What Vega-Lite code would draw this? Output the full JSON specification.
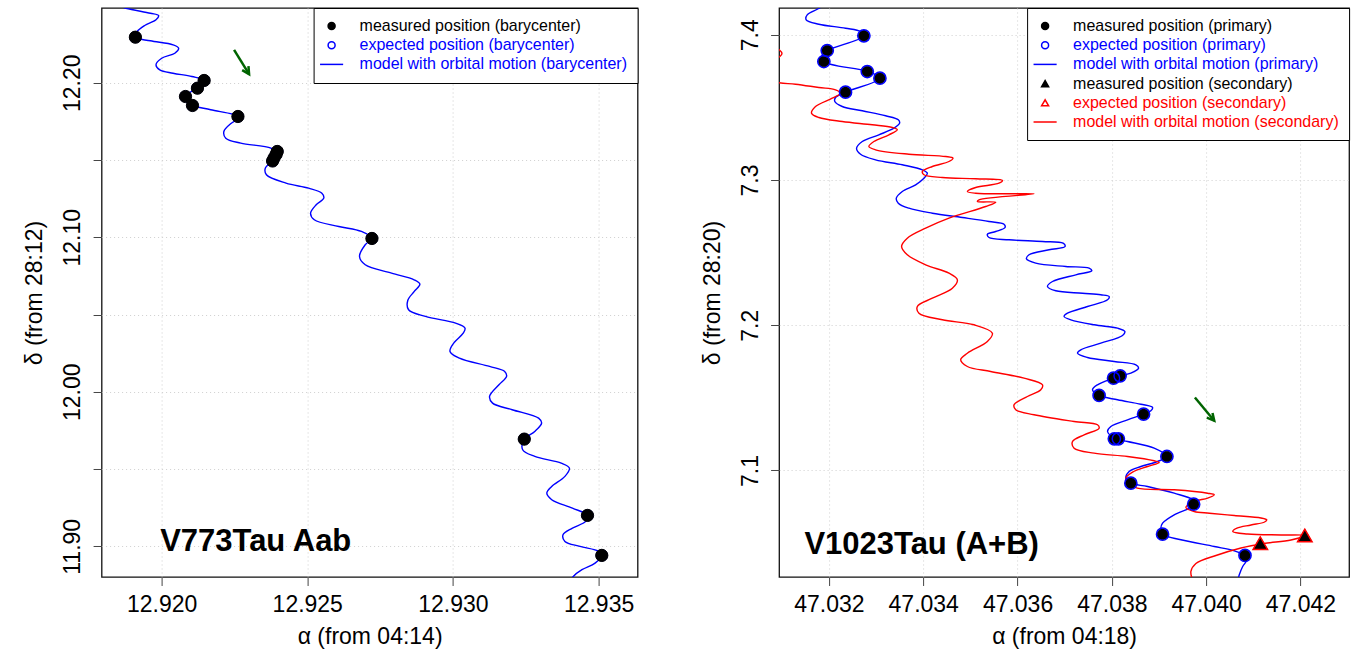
{
  "$schema": "https://vega.github.io/schema/vega-lite/v6.json",
  "background": "white",
  "padding": {"left": 22.6, "top": 6, "right": 5, "bottom": 5},
  "bounds": "flush",
  "spacing": 141.5,
  "config": {
    "font": "Liberation Sans",
    "view": {"stroke": "#111111", "strokeWidth": 1.3},
    "axis": {
      "domain": false, "grid": true, "gridColor": "#cfcfcf", "gridDash": [1, 3], "gridWidth": 1,
      "tickColor": "#444444", "tickSize": 8.5, "tickWidth": 1,
      "labelFont": "Liberation Sans", "labelFontSize": 23, "labelColor": "#000000",
      "titleFont": "Liberation Sans", "titleFontSize": 23, "titleFontWeight": "normal", "titleColor": "#000000",
      "labelFlush": false, "labelOverlap": false, "labelBound": false
    },
    "legend": {
      "orient": "top-right", "offset": 0, "padding": 10, "strokeColor": "#000000", "fillColor": "#ffffff",
      "cornerRadius": 0, "labelFont": "Liberation Sans", "labelFontSize": 16, "labelLimit": 600,
      "labelOffset": 20, "rowPadding": 3.2, "symbolSize": 49, "symbolStrokeWidth": 1.5, "symbolOpacity": 1
    }
  },
  "resolve": {"scale": {"fill": "independent", "stroke": "independent", "shape": "independent", "x": "independent", "y": "independent"}},
  "datasets": {
    "leftModel": [
      {"i":1,"a":12.918296,"d":12.25132},{"i":2,"a":12.918773,"d":12.24828},{"i":3,"a":12.919615,"d":12.24504},
      {"i":4,"a":12.919897,"d":12.24355},{"i":5,"a":12.919808,"d":12.24077},{"i":6,"a":12.919419,"d":12.23708},
      {"i":7,"a":12.919162,"d":12.23320},{"i":8,"a":12.919096,"d":12.22951},{"i":9,"a":12.919615,"d":12.22718},
      {"i":10,"a":12.920392,"d":12.22459},{"i":11,"a":12.920584,"d":12.22239},{"i":12,"a":12.920454,"d":12.21915},
      {"i":13,"a":12.920003,"d":12.21592},{"i":14,"a":12.919808,"d":12.21165},{"i":15,"a":12.919938,"d":12.20841},
      {"i":16,"a":12.920392,"d":12.20621},{"i":17,"a":12.921038,"d":12.20408},{"i":18,"a":12.921464,"d":12.20149},
      {"i":19,"a":12.921230,"d":12.19651},{"i":20,"a":12.920907,"d":12.19308},{"i":21,"a":12.920818,"d":12.19113},
      {"i":22,"a":12.920856,"d":12.18790},{"i":23,"a":12.921062,"d":12.18531},{"i":24,"a":12.921684,"d":12.18253},
      {"i":25,"a":12.922615,"d":12.17819},{"i":26,"a":12.922557,"d":12.17593},{"i":27,"a":12.922395,"d":12.17386},
      {"i":28,"a":12.922137,"d":12.16848},{"i":29,"a":12.922203,"d":12.16415},{"i":30,"a":12.922718,"d":12.16091},
      {"i":31,"a":12.923753,"d":12.15768},{"i":32,"a":12.923948,"d":12.15444},{"i":33,"a":12.923897,"d":12.15166},
      {"i":34,"a":12.923818,"d":12.14952},{"i":35,"a":12.923560,"d":12.14474},{"i":36,"a":12.923598,"d":12.14046},
      {"i":37,"a":12.924271,"d":12.13503},{"i":38,"a":12.925048,"d":12.13179},{"i":39,"a":12.925502,"d":12.12856},
      {"i":40,"a":12.925567,"d":12.12532},{"i":41,"a":12.925306,"d":12.12105},{"i":42,"a":12.925113,"d":12.11561},
      {"i":43,"a":12.925241,"d":12.11134},{"i":44,"a":12.926082,"d":12.10701},{"i":45,"a":12.926859,"d":12.10377},
      {"i":46,"a":12.927220,"d":12.09924},{"i":47,"a":12.926990,"d":12.09517},{"i":48,"a":12.926794,"d":12.08759},
      {"i":49,"a":12.926990,"d":12.08222},{"i":50,"a":12.927893,"d":12.07679},{"i":51,"a":12.928670,"d":12.07252},
      {"i":52,"a":12.928866,"d":12.06967},{"i":53,"a":12.928674,"d":12.06495},{"i":54,"a":12.928450,"d":12.05912},
      {"i":55,"a":12.928478,"d":12.05310},{"i":56,"a":12.929058,"d":12.04877},{"i":57,"a":12.930093,"d":12.04443},
      {"i":58,"a":12.930416,"d":12.04119},{"i":59,"a":12.930354,"d":12.03796},{"i":60,"a":12.930027,"d":12.03149},
      {"i":61,"a":12.929900,"d":12.02612},{"i":62,"a":12.930223,"d":12.02178},{"i":63,"a":12.931258,"d":12.01641},
      {"i":64,"a":12.931777,"d":12.01318},{"i":65,"a":12.931842,"d":12.00994},{"i":66,"a":12.931581,"d":12.00457},
      {"i":67,"a":12.931258,"d":11.99700},{"i":68,"a":12.931361,"d":11.99266},{"i":69,"a":12.932034,"d":11.98839},
      {"i":70,"a":12.932942,"d":11.98295},{"i":71,"a":12.933045,"d":11.97972},{"i":72,"a":12.932811,"d":11.97435},
      {"i":73,"a":12.932450,"d":11.96937},{"i":74,"a":12.932395,"d":11.96251},{"i":75,"a":12.932811,"d":11.95817},
      {"i":76,"a":12.933718,"d":11.95383},{"i":77,"a":12.934000,"d":11.95060},{"i":78,"a":12.933845,"d":11.94523},
      {"i":79,"a":12.933392,"d":11.93876},{"i":80,"a":12.933223,"d":11.93442},{"i":81,"a":12.933392,"d":11.93015},
      {"i":82,"a":12.934103,"d":11.92471},{"i":83,"a":12.934622,"d":11.91999},{"i":84,"a":12.934557,"d":11.91611},
      {"i":85,"a":12.934103,"d":11.91177},{"i":86,"a":12.933780,"d":11.90750},{"i":87,"a":12.933845,"d":11.90316},
      {"i":88,"a":12.934364,"d":11.89993},{"i":89,"a":12.935010,"d":11.89669},{"i":90,"a":12.935113,"d":11.89410},
      {"i":91,"a":12.934880,"d":11.88912},{"i":92,"a":12.934430,"d":11.88485},{"i":93,"a":12.934131,"d":11.88051},
      {"i":94,"a":12.933897,"d":11.87404}
    ],
    "leftPts": [
      {"a":12.91910,"d":12.22951,"s":"e"},{"a":12.92146,"d":12.20149,"s":"e"},{"a":12.92123,"d":12.19651,"s":"e"},
      {"a":12.92082,"d":12.19113,"s":"e"},{"a":12.92106,"d":12.18531,"s":"e"},{"a":12.92262,"d":12.17819,"s":"e"},
      {"a":12.92397,"d":12.15554,"s":"e"},{"a":12.92393,"d":12.15360,"s":"e"},{"a":12.92386,"d":12.15134,"s":"e"},
      {"a":12.92381,"d":12.14939,"s":"e"},{"a":12.92722,"d":12.09924,"s":"e"},{"a":12.93245,"d":11.96937,"s":"e"},
      {"a":12.93462,"d":11.91999,"s":"e"},{"a":12.93511,"d":11.89410,"s":"e"},
      {"a":12.91910,"d":12.22951,"s":"m"},{"a":12.92146,"d":12.20149,"s":"m"},{"a":12.92123,"d":12.19651,"s":"m"},
      {"a":12.92082,"d":12.19113,"s":"m"},{"a":12.92106,"d":12.18531,"s":"m"},{"a":12.92262,"d":12.17819,"s":"m"},
      {"a":12.92397,"d":12.15554,"s":"m"},{"a":12.92393,"d":12.15360,"s":"m"},{"a":12.92386,"d":12.15134,"s":"m"},
      {"a":12.92381,"d":12.14939,"s":"m"},{"a":12.92722,"d":12.09924,"s":"m"},{"a":12.93245,"d":11.96937,"s":"m"},
      {"a":12.93462,"d":11.91999,"s":"m"},{"a":12.93511,"d":11.89410,"s":"m"}
    ],
    "leftArrow": [{"a":12.922488,"d":12.22136,"a2":12.923003,"d2":12.20557}],
    "leftHead": [{"a":12.923003,"d":12.20557}],
    "leftLabel": [{"a":12.91995,"d":11.89669,"t":"V773Tau Aab"}],
    "rightBlue": [
      {"i":1,"a":47.032034,"d":7.42431},{"i":2,"a":47.031822,"d":7.41880},{"i":3,"a":47.031539,"d":7.41377},
      {"i":4,"a":47.031518,"d":7.41033},{"i":5,"a":47.031786,"d":7.40730},{"i":6,"a":47.032352,"d":7.40454},
      {"i":7,"a":47.032671,"d":7.40227},{"i":8,"a":47.032741,"d":7.39931},{"i":9,"a":47.031964,"d":7.38919},
      {"i":10,"a":47.031858,"d":7.38623},{"i":11,"a":47.031892,"d":7.38162},{"i":12,"a":47.032813,"d":7.37473},
      {"i":13,"a":47.033081,"d":7.37012},{"i":14,"a":47.032352,"d":7.36048},{"i":15,"a":47.032140,"d":7.35683},
      {"i":16,"a":47.032125,"d":7.35407},{"i":17,"a":47.032282,"d":7.35063},{"i":18,"a":47.032707,"d":7.34767},
      {"i":19,"a":47.033202,"d":7.34423},{"i":20,"a":47.033471,"d":7.34147},{"i":21,"a":47.033499,"d":7.33913},
      {"i":22,"a":47.033378,"d":7.33569},{"i":23,"a":47.033059,"d":7.33114},{"i":24,"a":47.032707,"d":7.32653},
      {"i":25,"a":47.032586,"d":7.32192},{"i":26,"a":47.032671,"d":7.31779},{"i":27,"a":47.032989,"d":7.31393},
      {"i":28,"a":47.033556,"d":7.31049},{"i":29,"a":47.033981,"d":7.30704},{"i":30,"a":47.034087,"d":7.30470},
      {"i":31,"a":47.034015,"d":7.30126},{"i":32,"a":47.033839,"d":7.29672},{"i":33,"a":47.033556,"d":7.29210},
      {"i":34,"a":47.033429,"d":7.28749},{"i":35,"a":47.033471,"d":7.28405},{"i":36,"a":47.033696,"d":7.28060},
      {"i":37,"a":47.034193,"d":7.27716},{"i":38,"a":47.034830,"d":7.27420},{"i":39,"a":47.035395,"d":7.27145},
      {"i":40,"a":47.035713,"d":7.26959},{"i":41,"a":47.035735,"d":7.26731},{"i":42,"a":47.035537,"d":7.26456},
      {"i":43,"a":47.035361,"d":7.26270},{"i":44,"a":47.035395,"d":7.26043},{"i":45,"a":47.035820,"d":7.25884},
      {"i":46,"a":47.036529,"d":7.25767},{"i":47,"a":47.036966,"d":7.25650},{"i":48,"a":47.037008,"d":7.25423},
      {"i":49,"a":47.036669,"d":7.25196},{"i":50,"a":47.036244,"d":7.24852},{"i":51,"a":47.036189,"d":7.24576},
      {"i":52,"a":47.036386,"d":7.24273},{"i":53,"a":47.037023,"d":7.24046},{"i":54,"a":47.037518,"d":7.23929},
      {"i":55,"a":47.037575,"d":7.23750},{"i":56,"a":47.037236,"d":7.23474},{"i":57,"a":47.036741,"d":7.23013},
      {"i":58,"a":47.036635,"d":7.22669},{"i":59,"a":47.036811,"d":7.22373},{"i":60,"a":47.037378,"d":7.22207},
      {"i":61,"a":47.037766,"d":7.22097},{"i":62,"a":47.037943,"d":7.21980},{"i":63,"a":47.037909,"d":7.21753},
      {"i":64,"a":47.037484,"d":7.21292},{"i":65,"a":47.037059,"d":7.20830},{"i":66,"a":47.036987,"d":7.20603},
      {"i":67,"a":47.037130,"d":7.20376},{"i":68,"a":47.037624,"d":7.20032},{"i":69,"a":47.038121,"d":7.19798},
      {"i":70,"a":47.038276,"d":7.19570},{"i":71,"a":47.038227,"d":7.19295},{"i":72,"a":47.037766,"d":7.18765},
      {"i":73,"a":47.037342,"d":7.18310},{"i":74,"a":47.037272,"d":7.18076},{"i":75,"a":47.037484,"d":7.17780},
      {"i":76,"a":47.038049,"d":7.17505},{"i":77,"a":47.038510,"d":7.17277},{"i":78,"a":47.038567,"d":7.17043},
      {"i":79,"a":47.038403,"d":7.16699},{"i":80,"a":47.038176,"d":7.16520},{"i":81,"a":47.038036,"d":7.16355},
      {"i":82,"a":47.037696,"d":7.15900},{"i":83,"a":47.037590,"d":7.15556},{"i":84,"a":47.037730,"d":7.15164},
      {"i":85,"a":47.038121,"d":7.14867},{"i":86,"a":47.038616,"d":7.14564},{"i":87,"a":47.038864,"d":7.14337},
      {"i":88,"a":47.038828,"d":7.14110},{"i":89,"a":47.038673,"d":7.13876},{"i":90,"a":47.038333,"d":7.13490},
      {"i":91,"a":47.037979,"d":7.13029},{"i":92,"a":47.037909,"d":7.12685},{"i":93,"a":47.038085,"d":7.12182},
      {"i":94,"a":47.038333,"d":7.11996},{"i":95,"a":47.038898,"d":7.11535},{"i":96,"a":47.039168,"d":7.10963},
      {"i":97,"a":47.038970,"d":7.10619},{"i":98,"a":47.038616,"d":7.10275},{"i":99,"a":47.038367,"d":7.09930},
      {"i":100,"a":47.038297,"d":7.09469},{"i":101,"a":47.038403,"d":7.09125},{"i":102,"a":47.038758,"d":7.08898},
      {"i":103,"a":47.039323,"d":7.08436},{"i":104,"a":47.039713,"d":7.07982},{"i":105,"a":47.039735,"d":7.07679},
      {"i":106,"a":47.039641,"d":7.07403},{"i":107,"a":47.039323,"d":7.06949},{"i":108,"a":47.039076,"d":7.06370},
      {"i":109,"a":47.039040,"d":7.06026},{"i":110,"a":47.039076,"d":7.05613},{"i":111,"a":47.039465,"d":7.05228},
      {"i":112,"a":47.040172,"d":7.04766},{"i":113,"a":47.040597,"d":7.04470},{"i":114,"a":47.040824,"d":7.04147},
      {"i":115,"a":47.040866,"d":7.03850},{"i":116,"a":47.040775,"d":7.03389},{"i":117,"a":47.040703,"d":7.02818},
      {"i":118,"a":47.040654,"d":7.02219}
    ],
    "rightRed": [
      {"i":1,"a":47.030442,"d":7.39883},{"i":2,"a":47.030760,"d":7.39263},{"i":3,"a":47.030951,"d":7.38953},
      {"i":4,"a":47.031004,"d":7.38712},{"i":5,"a":47.030930,"d":7.38437},{"i":6,"a":47.030654,"d":7.38024},
      {"i":7,"a":47.030442,"d":7.37335},{"i":8,"a":47.030866,"d":7.36750},{"i":9,"a":47.031291,"d":7.36599},
      {"i":10,"a":47.031786,"d":7.36371},{"i":11,"a":47.032140,"d":7.36213},{"i":12,"a":47.032246,"d":7.35979},
      {"i":13,"a":47.032070,"d":7.35634},{"i":14,"a":47.031715,"d":7.35063},{"i":15,"a":47.031631,"d":7.34602},
      {"i":16,"a":47.031786,"d":7.34306},{"i":17,"a":47.032282,"d":7.34030},{"i":18,"a":47.032919,"d":7.33803},
      {"i":19,"a":47.033344,"d":7.33617},{"i":20,"a":47.033450,"d":7.33459},{"i":21,"a":47.033272,"d":7.33114},
      {"i":22,"a":47.032953,"d":7.32653},{"i":23,"a":47.032847,"d":7.32309},{"i":24,"a":47.032989,"d":7.32082},
      {"i":25,"a":47.033696,"d":7.31779},{"i":26,"a":47.034476,"d":7.31620},{"i":27,"a":47.034631,"d":7.31503},
      {"i":28,"a":47.034546,"d":7.31276},{"i":29,"a":47.034193,"d":7.30932},{"i":30,"a":47.033981,"d":7.30587},
      {"i":31,"a":47.034015,"d":7.30360},{"i":32,"a":47.034406,"d":7.30174},{"i":33,"a":47.035113,"d":7.30085},
      {"i":34,"a":47.035679,"d":7.29968},{"i":35,"a":47.035607,"d":7.29782},{"i":36,"a":47.035113,"d":7.29486},
      {"i":37,"a":47.034936,"d":7.29210},{"i":38,"a":47.035113,"d":7.29093},{"i":39,"a":47.035820,"d":7.29052},
      {"i":40,"a":47.036350,"d":7.29052},{"i":41,"a":47.035183,"d":7.28639},{"i":42,"a":47.035149,"d":7.28522},
      {"i":43,"a":47.035537,"d":7.28473},{"i":44,"a":47.035325,"d":7.28177},{"i":45,"a":47.034546,"d":7.27372},
      {"i":46,"a":47.034051,"d":7.26683},{"i":47,"a":47.033662,"d":7.25995},{"i":48,"a":47.033541,"d":7.25423},
      {"i":49,"a":47.033662,"d":7.24852},{"i":50,"a":47.034051,"d":7.24163},{"i":51,"a":47.034546,"d":7.23585},
      {"i":52,"a":47.034724,"d":7.23130},{"i":53,"a":47.034618,"d":7.22552},{"i":54,"a":47.034193,"d":7.21863},
      {"i":55,"a":47.033875,"d":7.21292},{"i":56,"a":47.033909,"d":7.20830},{"i":57,"a":47.034406,"d":7.20376},
      {"i":58,"a":47.035076,"d":7.20032},{"i":59,"a":47.035467,"d":7.19453},{"i":60,"a":47.035361,"d":7.18882},
      {"i":61,"a":47.034936,"d":7.18076},{"i":62,"a":47.034794,"d":7.17622},{"i":63,"a":47.034936,"d":7.17160},
      {"i":64,"a":47.035431,"d":7.16816},{"i":65,"a":47.036138,"d":7.16355},{"i":66,"a":47.036529,"d":7.15900},
      {"i":67,"a":47.036493,"d":7.15556},{"i":68,"a":47.036210,"d":7.15095},{"i":69,"a":47.035926,"d":7.14523},
      {"i":70,"a":47.035962,"d":7.14179},{"i":71,"a":47.036350,"d":7.13835},{"i":72,"a":47.037200,"d":7.13373},
      {"i":73,"a":47.037696,"d":7.13146},{"i":74,"a":47.037730,"d":7.12912},{"i":75,"a":47.037412,"d":7.12458},
      {"i":76,"a":47.037166,"d":7.11996},{"i":77,"a":47.037200,"d":7.11535},{"i":78,"a":47.037624,"d":7.11191},
      {"i":79,"a":47.038333,"d":7.10963},{"i":80,"a":47.038898,"d":7.10667},{"i":81,"a":47.039004,"d":7.10550},
      {"i":82,"a":47.038758,"d":7.10275},{"i":83,"a":47.038439,"d":7.09882},{"i":84,"a":47.038297,"d":7.09469},
      {"i":85,"a":47.038361,"d":7.09104},{"i":86,"a":47.038539,"d":7.08781},{"i":87,"a":47.039323,"d":7.08671},
      {"i":88,"a":47.040032,"d":7.08436},{"i":89,"a":47.040172,"d":7.08326},{"i":90,"a":47.040032,"d":7.08092},
      {"i":91,"a":47.039747,"d":7.07865},{"i":92,"a":47.039571,"d":7.07452},{"i":93,"a":47.039747,"d":7.07176},
      {"i":94,"a":47.040070,"d":7.07059},{"i":95,"a":47.040597,"d":7.06901},{"i":96,"a":47.041163,"d":7.06729},
      {"i":97,"a":47.041285,"d":7.06605},{"i":98,"a":47.041240,"d":7.06453},{"i":99,"a":47.040951,"d":7.06247},
      {"i":100,"a":47.040654,"d":7.06026},{"i":101,"a":47.040565,"d":7.05799},{"i":102,"a":47.040879,"d":7.05627},
      {"i":103,"a":47.041588,"d":7.05558},{"i":104,"a":47.042093,"d":7.05524},{"i":105,"a":47.041800,"d":7.05214},
      {"i":106,"a":47.041227,"d":7.04973},{"i":107,"a":47.040739,"d":7.04663},{"i":108,"a":47.040208,"d":7.04147},
      {"i":109,"a":47.039783,"d":7.03596},{"i":110,"a":47.039677,"d":7.03045},{"i":111,"a":47.039709,"d":7.02494}
    ],
    "rightPts": [
      {"a":47.032741,"d":7.39931,"s":"m1"},{"a":47.031964,"d":7.38919,"s":"m1"},{"a":47.031892,"d":7.38162,"s":"m1"},
      {"a":47.032813,"d":7.37473,"s":"m1"},{"a":47.033081,"d":7.37012,"s":"m1"},{"a":47.032352,"d":7.36048,"s":"m1"},
      {"a":47.038036,"d":7.16355,"s":"m1"},{"a":47.038176,"d":7.16520,"s":"m1"},{"a":47.037730,"d":7.15164,"s":"m1"},
      {"a":47.038673,"d":7.13876,"s":"m1"},{"a":47.038053,"d":7.12182,"s":"m1"},{"a":47.038138,"d":7.12182,"s":"m1"},
      {"a":47.039168,"d":7.10963,"s":"m1"},{"a":47.038403,"d":7.09125,"s":"m1"},{"a":47.039735,"d":7.07679,"s":"m1"},
      {"a":47.039076,"d":7.05613,"s":"m1"},{"a":47.040824,"d":7.04147,"s":"m1"},
      {"a":47.041149,"d":7.04993,"s":"m2"},{"a":47.042093,"d":7.05524,"s":"m2"},
      {"a":47.032741,"d":7.39931,"s":"e1"},{"a":47.031964,"d":7.38919,"s":"e1"},{"a":47.031892,"d":7.38162,"s":"e1"},
      {"a":47.032813,"d":7.37473,"s":"e1"},{"a":47.033081,"d":7.37012,"s":"e1"},{"a":47.032352,"d":7.36048,"s":"e1"},
      {"a":47.038036,"d":7.16355,"s":"e1"},{"a":47.038176,"d":7.16520,"s":"e1"},{"a":47.037730,"d":7.15164,"s":"e1"},
      {"a":47.038673,"d":7.13876,"s":"e1"},{"a":47.038053,"d":7.12182,"s":"e1"},{"a":47.038138,"d":7.12182,"s":"e1"},
      {"a":47.039168,"d":7.10963,"s":"e1"},{"a":47.038403,"d":7.09125,"s":"e1"},{"a":47.039735,"d":7.07679,"s":"e1"},
      {"a":47.039076,"d":7.05613,"s":"e1"},{"a":47.040824,"d":7.04147,"s":"e1"},
      {"a":47.041149,"d":7.04993,"s":"e2"},{"a":47.042093,"d":7.05524,"s":"e2"}
    ],
    "rightArrow": [{"a":47.039762,"d":7.15026,"a2":47.040172,"d2":7.13422}],
    "rightHead": [{"a":47.040172,"d":7.13422}],
    "rightLabel": [{"a":47.03148,"d":7.04215,"t":"V1023Tau (A+B)"}]
  },
  "hconcat": [
    {
      "width": 536,
      "height": 569,
      "layer": [
        {
          "data": {"name": "leftModel"},
          "mark": {"type": "line", "strokeWidth": 1.4, "interpolate": "catmull-rom", "clip": true, "color": "#0000ff"},
          "encoding": {
            "x": {"field": "a", "type": "quantitative", "scale": {"domain": [12.91794, 12.93634], "zero": false, "nice": false},
              "axis": {"title": "α (from 04:14)", "values": [12.920, 12.925, 12.930, 12.935], "format": ".3f",
                "labelBaseline": "alphabetic", "labelPadding": 26, "titleBaseline": "alphabetic", "titleX": 268, "titleY": 66.5}},
            "y": {"field": "d", "type": "quantitative", "scale": {"domain": [11.88013, 12.24841], "zero": false, "nice": false},
              "axis": {"title": "δ (from 28:12)", "values": [11.90, 11.95, 12.00, 12.05, 12.10, 12.15, 12.20],
                "labelExpr": "round(datum.value*100) % 10 == 0 ? format(datum.value, '.2f') : ''",
                "labelAngle": 270, "labelAlign": "center", "labelBaseline": "alphabetic", "labelPadding": 13.5,
                "titleAngle": 270, "titleAlign": "center", "titleBaseline": "alphabetic", "titleX": -60, "titleY": 284.5}},
            "order": {"field": "i", "type": "quantitative"}
          }
        },
        {
          "data": {"name": "leftPts"},
          "transform": [{"filter": "datum.s == 'e'"}],
          "mark": {"type": "point", "opacity": 1, "strokeWidth": 1.5},
          "encoding": {
            "x": {"field": "a", "type": "quantitative", "scale": {"domain": [12.91794, 12.93634], "zero": false, "nice": false}},
            "y": {"field": "d", "type": "quantitative", "scale": {"domain": [11.88013, 12.24841], "zero": false, "nice": false}},
            "fill": {"field": "s", "type": "nominal", "title": null, "scale": {"domain": ["m", "e", "l"], "range": ["#000000", "transparent", "transparent"]},
              "legend": {"title": null, "labelColor": {"expr": "datum.value == 'm' ? '#000000' : '#0000ff'"},
                "labelExpr": "datum.value == 'm' ? 'measured position (barycenter)' : datum.value == 'e' ? 'expected position (barycenter)' : 'model with orbital motion (barycenter)'"}},
            "stroke": {"field": "s", "type": "nominal", "title": null, "scale": {"domain": ["m", "e", "l"], "range": ["#000000", "#0000ff", "#0000ff"]}},
            "shape": {"field": "s", "type": "nominal", "title": null, "scale": {"domain": ["m", "e", "l"], "range": ["circle", "circle", "M-3.3,0H3.3"]}},
            "size": {"condition": {"test": "datum.s == 'm'", "value": 150}, "value": 115}
          }
        },
        {
          "data": {"name": "leftPts"},
          "transform": [{"filter": "datum.s == 'm'"}],
          "mark": {"type": "point", "opacity": 1, "strokeWidth": 1},
          "encoding": {
            "x": {"field": "a", "type": "quantitative", "scale": {"domain": [12.91794, 12.93634], "zero": false, "nice": false}},
            "y": {"field": "d", "type": "quantitative", "scale": {"domain": [11.88013, 12.24841], "zero": false, "nice": false}},
            "fill": {"field": "s", "type": "nominal", "title": null, "scale": {"domain": ["m", "e", "l"], "range": ["#000000", "transparent", "transparent"]}},
            "stroke": {"field": "s", "type": "nominal", "title": null, "scale": {"domain": ["m", "e", "l"], "range": ["#000000", "#0000ff", "#0000ff"]}},
            "shape": {"field": "s", "type": "nominal", "title": null, "scale": {"domain": ["m", "e", "l"], "range": ["circle", "circle", "M-3.3,0H3.3"]}},
            "size": {"condition": {"test": "datum.s == 'm'", "value": 150}, "value": 115}
          }
        },
        {
          "data": {"name": "leftArrow"},
          "mark": {"type": "rule", "color": "#006400", "strokeWidth": 2.5},
          "encoding": {
            "x": {"field": "a", "type": "quantitative", "scale": {"domain": [12.91794, 12.93634], "zero": false, "nice": false}},
            "y": {"field": "d", "type": "quantitative", "scale": {"domain": [11.88013, 12.24841], "zero": false, "nice": false}},
            "x2": {"field": "a2"},
            "y2": {"field": "d2"}
          }
        },
        {
          "data": {"name": "leftHead"},
          "mark": {"type": "point", "shape": "M-0.65,1.25L0,0L0.65,1.25", "filled": false, "opacity": 1, "color": "#006400", "strokeWidth": 2.5, "strokeJoin": "miter", "size": 130, "angle": 148},
          "encoding": {
            "x": {"field": "a", "type": "quantitative", "scale": {"domain": [12.91794, 12.93634], "zero": false, "nice": false}},
            "y": {"field": "d", "type": "quantitative", "scale": {"domain": [11.88013, 12.24841], "zero": false, "nice": false}}
          }
        },
        {
          "data": {"name": "leftLabel"},
          "mark": {"type": "text", "align": "left", "baseline": "alphabetic", "fontSize": 31, "fontWeight": "bold", "font": "Liberation Sans", "color": "#000000"},
          "encoding": {
            "x": {"field": "a", "type": "quantitative", "scale": {"domain": [12.91794, 12.93634], "zero": false, "nice": false}},
            "y": {"field": "d", "type": "quantitative", "scale": {"domain": [11.88013, 12.24841], "zero": false, "nice": false}},
            "text": {"field": "t"}
          }
        }
      ]
    },
    {
      "width": 570,
      "height": 569,
      "layer": [
        {
          "data": {"name": "rightBlue"},
          "mark": {"type": "line", "strokeWidth": 1.4, "interpolate": "catmull-rom", "clip": true, "color": "#0000ff"},
          "encoding": {
            "x": {"field": "a", "type": "quantitative", "scale": {"domain": [47.030943, 47.043032], "zero": false, "nice": false},
              "axis": {"title": "α (from 04:18)", "values": [47.032, 47.034, 47.036, 47.038, 47.040, 47.042], "format": ".3f",
                "labelBaseline": "alphabetic", "labelPadding": 26, "titleBaseline": "alphabetic", "titleX": 285, "titleY": 66.5}},
            "y": {"field": "d", "type": "quantitative", "scale": {"domain": [7.02665, 7.41846], "zero": false, "nice": false},
              "axis": {"title": "δ (from 28:20)", "values": [7.1, 7.2, 7.3, 7.4], "format": ".1f",
                "labelAngle": 270, "labelAlign": "center", "labelBaseline": "alphabetic", "labelPadding": 13.5,
                "titleAngle": 270, "titleAlign": "center", "titleBaseline": "alphabetic", "titleX": -60, "titleY": 284.5}},
            "order": {"field": "i", "type": "quantitative"}
          }
        },
        {
          "data": {"name": "rightRed"},
          "mark": {"type": "line", "strokeWidth": 1.4, "interpolate": "catmull-rom", "clip": true, "color": "#ff0000"},
          "encoding": {
            "x": {"field": "a", "type": "quantitative", "scale": {"domain": [47.030943, 47.043032], "zero": false, "nice": false}},
            "y": {"field": "d", "type": "quantitative", "scale": {"domain": [7.02665, 7.41846], "zero": false, "nice": false}},
            "order": {"field": "i", "type": "quantitative"}
          }
        },
        {
          "data": {"name": "rightPts"},
          "transform": [{"filter": "datum.s == 'm1' || datum.s == 'm2'"}],
          "mark": {"type": "point", "opacity": 1, "strokeWidth": 1},
          "encoding": {
            "x": {"field": "a", "type": "quantitative", "scale": {"domain": [47.030943, 47.043032], "zero": false, "nice": false}},
            "y": {"field": "d", "type": "quantitative", "scale": {"domain": [7.02665, 7.41846], "zero": false, "nice": false}},
            "fill": {"field": "s", "type": "nominal", "title": null, "scale": {"domain": ["m1", "e1", "l1", "m2", "e2", "l2"], "range": ["#000000", "transparent", "transparent", "#000000", "transparent", "transparent"]},
              "legend": {"title": null,
                "labelColor": {"expr": "datum.value == 'm1' || datum.value == 'm2' ? '#000000' : (datum.value == 'e2' || datum.value == 'l2' ? '#ff0000' : '#0000ff')"},
                "labelExpr": "datum.value == 'm1' ? 'measured position (primary)' : datum.value == 'e1' ? 'expected position (primary)' : datum.value == 'l1' ? 'model with orbital motion (primary)' : datum.value == 'm2' ? 'measured position (secondary)' : datum.value == 'e2' ? 'expected position (secondary)' : 'model with orbital motion (secondary)'"}},
            "stroke": {"field": "s", "type": "nominal", "title": null, "scale": {"domain": ["m1", "e1", "l1", "m2", "e2", "l2"], "range": ["#000000", "#0000ff", "#0000ff", "#000000", "#ff0000", "#ff0000"]}},
            "shape": {"field": "s", "type": "nominal", "title": null, "scale": {"domain": ["m1", "e1", "l1", "m2", "e2", "l2"], "range": ["circle", "circle", "M-3.3,0H3.3", "triangle-up", "triangle-up", "M-3.3,0H3.3"]}},
            "size": {"condition": {"test": "datum.s == 'm2'", "value": 190}, "value": 115}
          }
        },
        {
          "data": {"name": "rightPts"},
          "transform": [{"filter": "datum.s == 'e1' || datum.s == 'e2'"}],
          "mark": {"type": "point", "opacity": 1, "strokeWidth": 1.5},
          "encoding": {
            "x": {"field": "a", "type": "quantitative", "scale": {"domain": [47.030943, 47.043032], "zero": false, "nice": false}},
            "y": {"field": "d", "type": "quantitative", "scale": {"domain": [7.02665, 7.41846], "zero": false, "nice": false}},
            "fill": {"field": "s", "type": "nominal", "title": null, "scale": {"domain": ["m1", "e1", "l1", "m2", "e2", "l2"], "range": ["#000000", "transparent", "transparent", "#000000", "transparent", "transparent"]}},
            "stroke": {"field": "s", "type": "nominal", "title": null, "scale": {"domain": ["m1", "e1", "l1", "m2", "e2", "l2"], "range": ["#000000", "#0000ff", "#0000ff", "#000000", "#ff0000", "#ff0000"]}},
            "shape": {"field": "s", "type": "nominal", "title": null, "scale": {"domain": ["m1", "e1", "l1", "m2", "e2", "l2"], "range": ["circle", "circle", "M-3.3,0H3.3", "triangle-up", "triangle-up", "M-3.3,0H3.3"]}},
            "size": {"condition": {"test": "datum.s == 'e2'", "value": 210}, "value": 150}
          }
        },
        {
          "data": {"name": "rightArrow"},
          "mark": {"type": "rule", "color": "#006400", "strokeWidth": 2.5},
          "encoding": {
            "x": {"field": "a", "type": "quantitative", "scale": {"domain": [47.030943, 47.043032], "zero": false, "nice": false}},
            "y": {"field": "d", "type": "quantitative", "scale": {"domain": [7.02665, 7.41846], "zero": false, "nice": false}},
            "x2": {"field": "a2"},
            "y2": {"field": "d2"}
          }
        },
        {
          "data": {"name": "rightHead"},
          "mark": {"type": "point", "shape": "M-0.65,1.25L0,0L0.65,1.25", "filled": false, "opacity": 1, "color": "#006400", "strokeWidth": 2.5, "strokeJoin": "miter", "size": 130, "angle": 140},
          "encoding": {
            "x": {"field": "a", "type": "quantitative", "scale": {"domain": [47.030943, 47.043032], "zero": false, "nice": false}},
            "y": {"field": "d", "type": "quantitative", "scale": {"domain": [7.02665, 7.41846], "zero": false, "nice": false}}
          }
        },
        {
          "data": {"name": "rightLabel"},
          "mark": {"type": "text", "align": "left", "baseline": "alphabetic", "fontSize": 31, "fontWeight": "bold", "font": "Liberation Sans", "color": "#000000"},
          "encoding": {
            "x": {"field": "a", "type": "quantitative", "scale": {"domain": [47.030943, 47.043032], "zero": false, "nice": false}},
            "y": {"field": "d", "type": "quantitative", "scale": {"domain": [7.02665, 7.41846], "zero": false, "nice": false}},
            "text": {"field": "t"}
          }
        }
      ]
    }
  ]
}
